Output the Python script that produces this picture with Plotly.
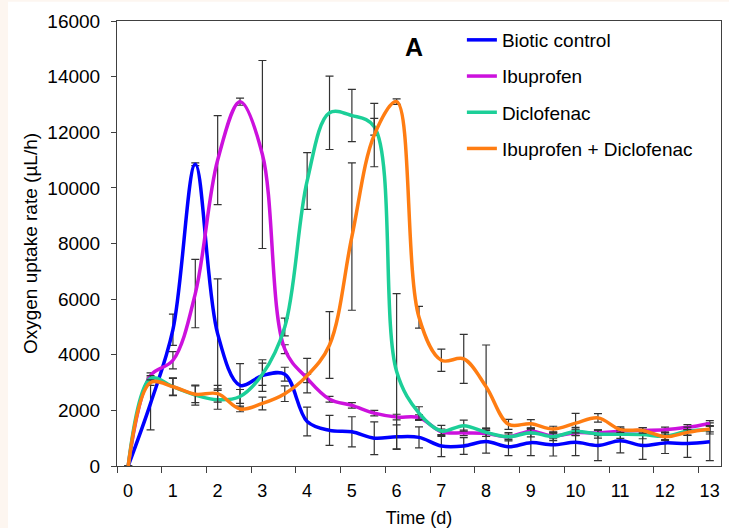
import plotly.graph_objects as go

days = [0, 0.5, 1, 1.5, 2, 2.5, 3, 3.5, 4, 4.5, 5, 5.5, 6, 6.5, 7, 7.5, 8, 8.5, 9, 9.5, 10, 10.5, 11, 11.5, 12, 12.5, 13]

biotic = [0, 2250, 4900, 10850, 4750, 2900, 3250, 3300, 1600, 1280, 1230, 1000, 1050, 1030, 720, 720, 880, 690, 840, 760, 850, 740, 910, 740, 830, 810, 870]
biotic_err = [0, 950, 560, 50, 1980, 780, 570, 250, 520, 540, 540, 590, 430, 380, 380, 300, 420, 320, 470, 400, 480, 550, 440, 500, 380, 500, 680]

ibuprofen = [0, 3250, 3800, 6200, 11000, 13100, 11200, 4200, 3150, 2400, 2180, 1900, 1760, 1740, 1230, 1190, 1170, 1050, 1250, 1080, 1200, 1190, 1250, 1280, 1300, 1390, 1530]
ibuprofen_err = [0, 100, 310, 1230, 1600, 130, 3380, 160, 150, 100, 100, 100, 100, 100, 100, 100, 100, 100, 100, 100, 100, 100, 100, 100, 100, 100, 100]

diclofenac = [0, 3150, 2850, 2550, 2380, 2500, 3300, 5000, 10250, 12700, 12600, 12200, 3400, 1900, 1260, 1450, 1210, 1050, 1200, 1060, 1240, 1150, 1140, 1130, 1070, 1250, 1300]
diclofenac_err = [0, 100, 320, 360, 340, 250, 400, 320, 1020, 1320, 940, 300, 2800, 230, 200, 200, 150, 150, 150, 150, 150, 150, 150, 150, 150, 150, 150]

combo = [0, 3000, 2850, 2580, 2600, 2050, 2250, 2600, 3250, 4350, 8250, 11900, 13100, 5350, 3800, 3850, 2850, 1500, 1520, 1330, 1540, 1730, 1310, 1280, 1050, 1210, 1330]
combo_err = [0, 100, 300, 300, 300, 100, 230, 280, 620, 1200, 2650, 1140, 100, 390, 400, 880, 1500, 180, 150, 100, 350, 150, 100, 100, 100, 100, 100]

series_names = ["Biotic control", "Ibuprofen", "Diclofenac", "Ibuprofen + Diclofenac"]
series_values = [biotic, ibuprofen, diclofenac, combo]
series_errors = [biotic_err, ibuprofen_err, diclofenac_err, combo_err]
series_colors = ["#0000ff", "#cc11dd", "#1ccf98", "#ff7d12"]

x_tick_positions = [-0.25, 0.75, 1.75, 2.75, 3.75, 4.75, 5.75, 6.75, 7.75, 8.75, 9.75, 10.75, 11.75, 12.75]
x_tick_labels = ["0", "1", "2", "3", "4", "5", "6", "7", "8", "9", "10", "11", "12", "13"]

FONT = "Liberation Sans, Arial, sans-serif"

fig = go.Figure()
for i, (name, vals, errs, col) in enumerate(zip(series_names, series_values, series_errors, series_colors)):
    fig.add_trace(go.Scatter(
        x=days, y=vals, name=name, mode="lines",
        line=dict(color=col, width=3.5, shape="spline", smoothing=1.0),
        error_y=dict(type="data", array=errs, visible=True, color="#333333", thickness=1.2, width=4),
        legendgroup=f"g{i}",
    ))

axis_line = "#404040"
fig.update_layout(
    width=729, height=528,
    margin=dict(l=117, r=8, t=21, b=62, autoexpand=False),
    paper_bgcolor="white", plot_bgcolor="white",
    font=dict(family=FONT, size=18, color="black"),
    showlegend=True,
    legend=dict(x=0.571, y=1.0, xanchor="left", yanchor="top",
                bgcolor="rgba(0,0,0,0)", font=dict(size=19, family=FONT),
                tracegroupgap=8.5, traceorder="grouped"),
    xaxis=dict(range=[-0.25, 13.25], tickmode="array", tickvals=x_tick_positions, ticktext=x_tick_labels,
               ticklabelshift=11, ticklabelstandoff=2, ticks="outside", ticklen=6, tickcolor=axis_line,
               showline=True, linecolor=axis_line, linewidth=1, mirror=True,
               showgrid=False, zeroline=False, automargin=False,
               title=dict(text="Time (d)", font=dict(size=18, family=FONT), standoff=16),
               tickfont=dict(size=18, family=FONT)),
    yaxis=dict(range=[0, 16000], dtick=2000, tickformat="d", ticks="outside", ticklen=5, tickcolor=axis_line,
               ticklabelstandoff=7,
               showline=True, linecolor=axis_line, linewidth=1, mirror=True,
               showgrid=False, zeroline=False, automargin=False,
               title=dict(text="Oxygen uptake rate (µL/h)", font=dict(size=19, family=FONT), standoff=4),
               tickfont=dict(size=19, family=FONT)),
    annotations=[dict(text="<b>A</b>", xref="paper", yref="paper", x=0.492, y=0.942,
                      xanchor="center", yanchor="middle", showarrow=False,
                      font=dict(size=25, family=FONT, color="black"))],
    shapes=[
        dict(type="rect", xref="paper", yref="paper", x0=-0.1937, x1=-0.1805, y0=-0.14, y1=1.05,
             fillcolor="#fdf6f0", line=dict(width=0), layer="below"),
        dict(type="rect", xref="paper", yref="paper", x0=-0.1937, x1=1.02, y0=1.043, y1=1.05,
             fillcolor="#fdf6f0", line=dict(width=0), layer="below"),
    ],
)

fig.write_html("out.html")
